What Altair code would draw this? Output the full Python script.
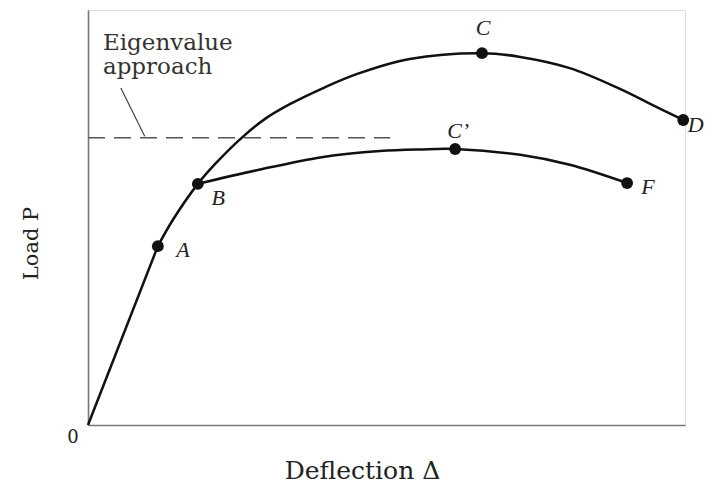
import altair as alt
import pandas as pd

# Straight elastic part: O -> A
oa_x = [0, 11.7]
oa_y = [0, 43.1]
# Upper path: A -> B -> C -> D
upper_x = [11.7, 14.2, 18.4, 21.3, 25.5, 29.6, 33.8, 39.4, 45.1, 53.9, 66.0, 72.4, 80.7, 89.1, 94.6, 99.7]
upper_y = [43.1, 49.4, 58.1, 62.9, 68.9, 73.7, 77.3, 81.2, 84.6, 88.2, 89.6, 88.7, 86.0, 81.0, 77.1, 73.5]
# Lower path: B -> C' -> F
lower_x = [18.4, 28.3, 39.4, 48.9, 55.6, 61.5, 72.4, 80.7, 90.3]
lower_y = [58.1, 61.4, 64.6, 66.0, 66.4, 66.5, 65.1, 62.7, 58.3]

# Marked points
pt_names = ["A", "B", "C", "C\u2019", "D", "F"]
pt_x = [11.7, 18.4, 66.0, 61.5, 99.7, 90.3]
pt_y = [43.1, 58.1, 89.6, 66.5, 73.5, 58.3]
lab_x = [15.9, 21.8, 66.2, 62.0, 101.8, 93.8]
lab_y = [42.2, 54.7, 95.7, 70.8, 72.3, 57.3]

# Eigenvalue approach level
eig_load = 69.2
eig_x_end = 50.6
eig_text = ["Eigenvalue", "approach"]
eig_text_x = [2.5, 2.5]
eig_text_y = [90.4, 84.6]
leader_x = [5.5, 9.5]
leader_y = [81.2, 69.6]

origin_label = ["0"]
origin_x = [-2.5]
origin_y = [-3.2]

oa_df = pd.DataFrame({"x": oa_x, "y": oa_y})
curve_df = pd.DataFrame(
    {"x": upper_x + lower_x, "y": upper_y + lower_y,
     "series": ["upper"] * len(upper_x) + ["lower"] * len(lower_x),
     "order": list(range(len(upper_x))) + list(range(len(lower_x)))}
)
pts_df = pd.DataFrame({"name": pt_names, "x": pt_x, "y": pt_y, "lx": lab_x, "ly": lab_y})
eig_df = pd.DataFrame({"x": [0], "x2": [eig_x_end], "y": [eig_load]})
eigtxt_df = pd.DataFrame({"t": eig_text, "x": eig_text_x, "y": eig_text_y})
leader_df = pd.DataFrame({"x": [leader_x[0]], "x2": [leader_x[1]], "y": [leader_y[0]], "y2": [leader_y[1]]})
orig_df = pd.DataFrame({"t": origin_label, "x": origin_x, "y": origin_y})

xs = alt.Scale(domain=[0, 100], nice=False, zero=False)
ys = alt.Scale(domain=[0, 100], nice=False, zero=False)

x_axis = alt.Axis(ticks=False, labels=False, grid=False, domainColor="#777777", domainWidth=1.6,
                  title="Deflection \u0394", titleFont="DejaVu Serif", titleFontSize=25,
                  titleFontWeight="normal", titleColor="#222222", titleX=274, titleY=53,
                  titleAlign="center", titleBaseline="alphabetic")
y_axis = alt.Axis(ticks=False, labels=False, grid=False, domainColor="#777777", domainWidth=1.6,
                  title="Load P", titleFont="DejaVu Serif", titleFontSize=21,
                  titleFontWeight="normal", titleColor="#222222", titleX=-51, titleY=233,
                  titleAngle=270, titleAlign="center", titleBaseline="alphabetic")

oa_line = alt.Chart(oa_df).mark_line(color="#111111", strokeWidth=2.5).encode(
    x=alt.X("x:Q", scale=xs, axis=x_axis),
    y=alt.Y("y:Q", scale=ys, axis=y_axis),
)

curves = alt.Chart(curve_df).mark_line(color="#111111", strokeWidth=2.5, interpolate="catmull-rom").encode(
    x=alt.X("x:Q", scale=xs),
    y=alt.Y("y:Q", scale=ys),
    detail="series:N",
    order="order:Q",
)

dashed = alt.Chart(eig_df).mark_rule(color="#555555", strokeWidth=1.5, strokeDash=[17, 9]).encode(
    x=alt.X("x:Q", scale=xs), x2="x2:Q", y=alt.Y("y:Q", scale=ys)
)

leader = alt.Chart(leader_df).mark_rule(color="#444444", strokeWidth=1.2).encode(
    x=alt.X("x:Q", scale=xs), x2="x2:Q", y=alt.Y("y:Q", scale=ys), y2="y2:Q"
)

dots = alt.Chart(pts_df).mark_point(filled=True, size=140, color="#111111", opacity=1).encode(
    x=alt.X("x:Q", scale=xs), y=alt.Y("y:Q", scale=ys)
)

labels = alt.Chart(pts_df).mark_text(font="Liberation Serif", fontStyle="italic", fontSize=22,
                                      color="#222222", align="center", baseline="middle").encode(
    x=alt.X("lx:Q", scale=xs), y=alt.Y("ly:Q", scale=ys), text="name:N"
)

eig_txt = alt.Chart(eigtxt_df).mark_text(font="DejaVu Serif", fontSize=23, color="#333333",
                                          align="left", baseline="alphabetic").encode(
    x=alt.X("x:Q", scale=xs), y=alt.Y("y:Q", scale=ys), text="t:N"
)

orig_txt = alt.Chart(orig_df).mark_text(font="DejaVu Serif", fontSize=18, color="#222222",
                                         align="center", baseline="middle").encode(
    x=alt.X("x:Q", scale=xs), y=alt.Y("y:Q", scale=ys), text="t:N"
)

chart = alt.layer(oa_line, dashed, leader, curves, dots, labels, eig_txt, orig_txt).properties(
    width=597, height=415,
    autosize=alt.AutoSizeParams(type="none"),
    padding={"left": 80, "top": 2, "right": 19, "bottom": 58},
).configure_view(stroke=None).configure(background="white")

chart.save("out.html", embed_options={"renderer": "svg", "actions": False})
